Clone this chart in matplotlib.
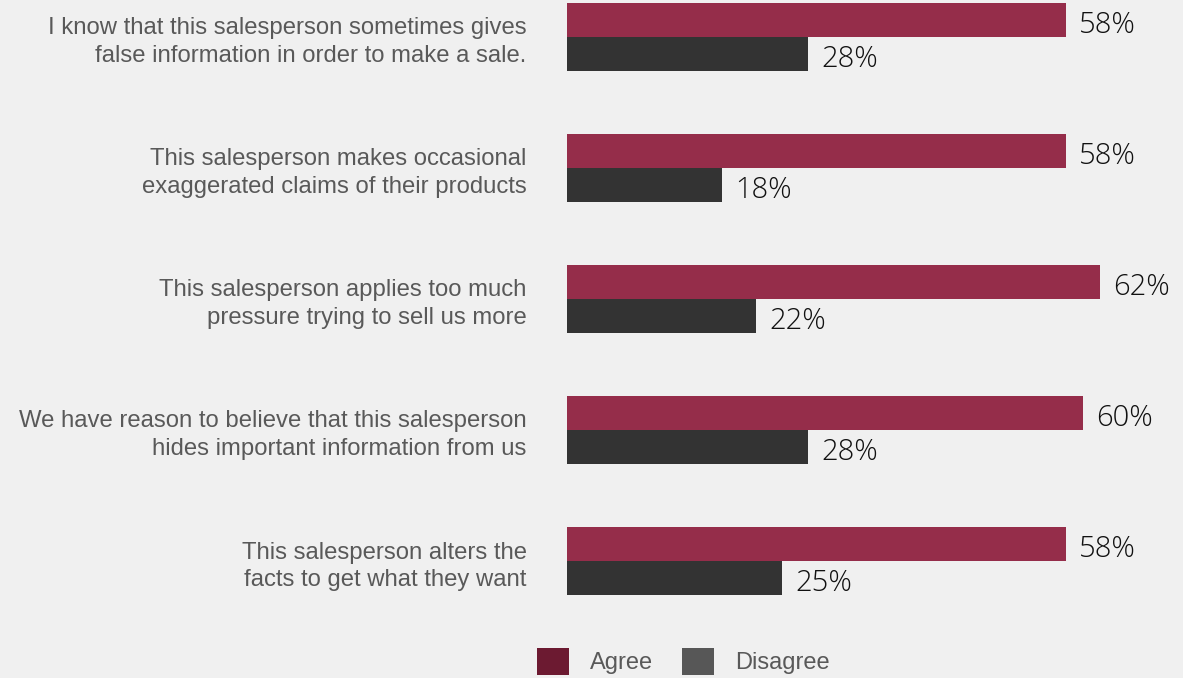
import matplotlib.pyplot as plt
from matplotlib.patches import Patch

statements = [
    "I know that this salesperson sometimes gives\nfalse information in order to make a sale.",
    "This salesperson makes occasional\nexaggerated claims of their products",
    "This salesperson applies too much\npressure trying to sell us more",
    "We have reason to believe that this salesperson\nhides important information from us",
    "This salesperson alters the\nfacts to get what they want",
]
agree = [58, 58, 62, 60, 58]
disagree = [28, 18, 22, 28, 25]
series_names = ["Agree", "Disagree"]

bg = "#f0f0f0"
agree_color = "#952d4a"
disagree_color = "#333333"
legend_colors = ["#6c1a31", "#575757"]
label_gray = "#595959"

W, H = 1183, 678
fig = plt.figure(figsize=(W / 100, H / 100), dpi=100, facecolor=bg)
ax = fig.add_axes([567 / W, 0, 602 / W, 1])
ax.set_facecolor(bg)

bar_h = 0.26
pos = list(range(len(statements)))
agree_bars = ax.barh([p - bar_h / 2 for p in pos], agree, height=bar_h,
                     color=agree_color)
disagree_bars = ax.barh([p + bar_h / 2 for p in pos], disagree, height=bar_h,
                        color=disagree_color)

# percentage labels just past the end of each bar
for bars, vals in ((agree_bars, agree), (disagree_bars, disagree)):
    for bar, v in zip(bars, vals):
        ax.annotate(f"{v}%", (bar.get_width(), bar.get_y() + bar.get_height() / 2),
                    xytext=(9.5, -3.5), textcoords="offset points",
                    ha="left", va="center", fontsize=21,
                    family="Open Sans", weight="light", color="#111111")

ax.set_xlim(0, 70)
ax.set_ylim(4.893, -0.282)
ax.set_yticks(pos, labels=statements)
ax.tick_params(axis="y", length=0, pad=29)
ax.set_xticks([])
for lbl in ax.get_yticklabels():
    lbl.set_fontfamily("Liberation Sans")
    lbl.set_fontsize(17.2)
    lbl.set_color(label_gray)
    lbl.set_linespacing(1.3)
for side in ax.spines.values():
    side.set_visible(False)

handles = [Patch(facecolor=c, edgecolor="none") for c in legend_colors]
fig.legend(handles, series_names, loc="upper left",
           bbox_to_anchor=(537 / W, 30 / H), ncol=2, frameon=False,
           borderpad=0, borderaxespad=0, handlelength=1.36, handleheight=1.36,
           handletextpad=0.9, columnspacing=1.2,
           prop={"family": "Liberation Sans", "size": 17}, labelcolor=label_gray)

fig.savefig("out.png", dpi=100, facecolor=bg)
